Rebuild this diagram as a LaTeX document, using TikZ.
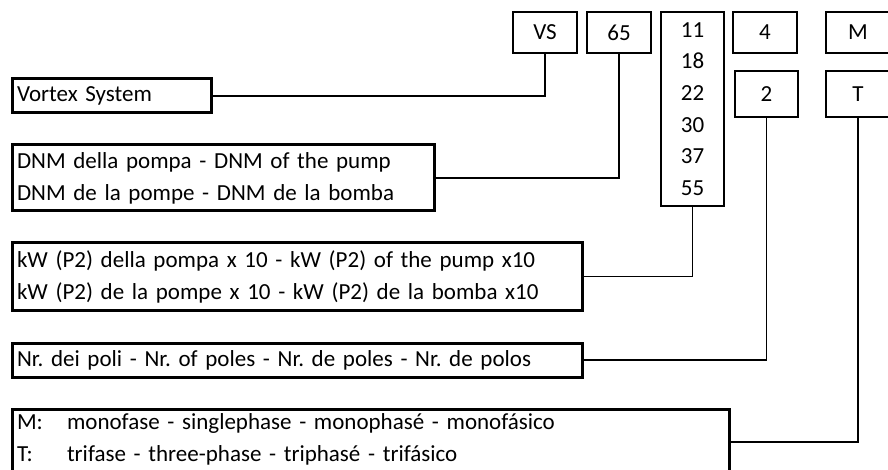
\documentclass[tikz,border=0pt]{standalone}
\usepackage{fontspec}
\setmainfont{Carlito}
\usepackage{tikz}
\usetikzlibrary{positioning}
\tikzstyle{code} = [draw, line width=1.8pt, outer sep=0pt, minimum width=64pt, minimum height=41pt, inner sep=0pt, align=center, font=\fontsize{23}{31.7}\selectfont]
\tikzstyle{desc} = [draw, line width=3pt, outer sep=0pt, anchor=north west, inner xsep=5pt, inner ysep=0pt, align=left, font=\fontsize{23}{32}\selectfont]
\tikzstyle{link} = [line width=1.3pt]

\begin{document}
\frenchspacing
\begin{tikzpicture}[x=1pt, y=-1pt]
    \useasboundingbox (0,0) rectangle (888,470);
    \clip (0,0) rectangle (888,470);

    % Code
    \node (vs) [code] at (545,32.5) {VS};
    \node (dnm) [code, right=10pt of vs] {65};
    \node (kw) [code, minimum width=63pt, minimum height=194pt, anchor=north west] at (661,12) {11\\18\\22\\30\\37\\55};
    \node (pol4) [code] at (765,32.5) {4};
    \node (pol2) [code, minimum width=63pt, minimum height=46pt] at (766.5,94) {2};
    \node (phm) [code] at (858,32.5) {M};
    \node (pht) [code, minimum height=46pt] at (858,94) {T};

    % Descriptions
    \node (vortex) [desc, text width=189pt, minimum height=34pt] at (12,79) {Vortex System};
    \node (dnmtext) [desc, text width=412pt, minimum height=66pt] at (12,145) {DNM della pompa - DNM of the pump\\DNM de la pompe - DNM de la bomba};
    \node (kwtext) [desc, text width=560pt, minimum height=67pt] at (12,243) {kW (P2) della pompa x 10 - kW (P2) of the pump x10\\kW (P2) de la pompe x 10 - kW (P2) de la bomba x10};
    \node (poltext) [desc, text width=560pt, minimum height=34pt] at (12,343) {Nr. dei poli - Nr. of poles - Nr. de poles - Nr. de polos};
    \node (phtext) [desc, text width=707pt, inner ysep=5pt] at (12,409) {\makebox[50pt][l]{M:}monofase - singlephase - monophasé - monofásico\\\makebox[50pt][l]{T:}trifase - three-phase - triphasé - trifásico\\~};

    % Edges
    \draw[link] (vs.south) |- (vortex.east);
    \draw[link] (dnm.south) |- (dnmtext.east);
    \draw[link] (kw.south) |- (kwtext.east);
    \draw[link] (pol2.south) |- (poltext.east);
    \draw[link] (pht.south) |- ([yshift=-33pt]phtext.north east);
\end{tikzpicture}
\end{document}
